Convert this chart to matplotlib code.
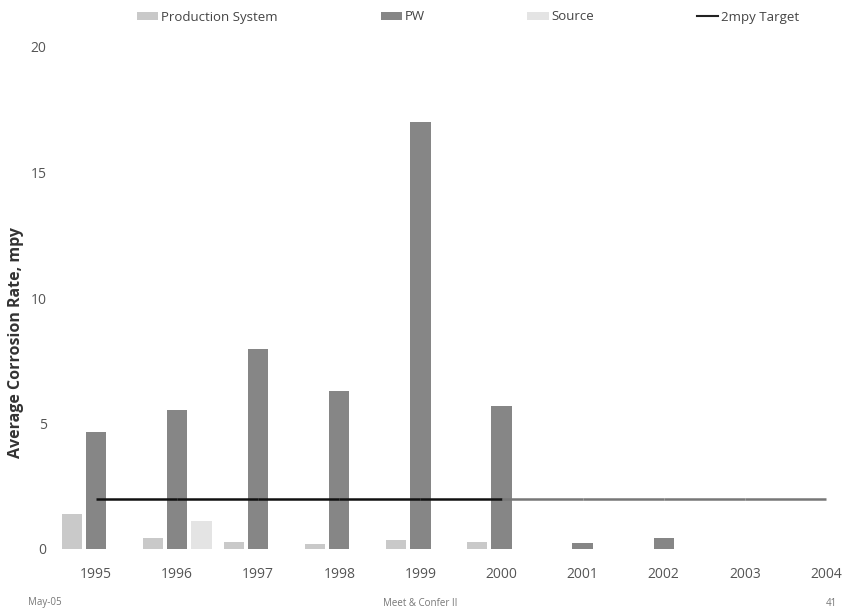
import matplotlib
matplotlib.use("Agg")
import matplotlib.pyplot as plt
import numpy as np
from matplotlib.patches import Patch
from matplotlib.lines import Line2D
from matplotlib.collections import LineCollection

plt.rcParams['font.family'] = ['Open Sans', 'DejaVu Sans']

years = ["1995", "1996", "1997", "1998", "1999", "2000", "2001", "2002", "2003", "2004"]
production_system = [1.4, 0.45, 0.28, 0.2, 0.35, 0.28, 0.0, 0.0, 0.0, 0.0]
pw = [4.65, 5.55, 7.95, 6.3, 17.0, 5.7, 0.25, 0.45, 0.0, 0.0]
source = [0.0, 1.1, 0.0, 0.0, 0.0, 0.0, 0.0, 0.0, 0.0, 0.0]
target = [2, 2, 2, 2, 2, 2, 2, 2, 2, 2]

W, H = 847, 609
fig = plt.figure(figsize=(W / 100, H / 100), dpi=100)
ax = fig.add_axes([55 / W, 1 - 549 / H, (W - 55) / W, (549 - 47) / H])

x = np.arange(len(years))
bw = 0.25
ax.bar(x - 0.3, production_system, bw, color="#c9c9c9", zorder=2)
ax.bar(x, pw, bw, color="#868686", zorder=2)
ax.bar(x + 0.3, source, bw, color="#e4e4e4", zorder=2)

# target line: dark over the reported years, fading afterwards
pts = np.column_stack([x, target])
segs = np.stack([pts[:-1], pts[1:]], axis=1)
seg_colors = ["#111111"] * 5 + ["#777777"] * 4
ax.add_collection(LineCollection(segs, colors=seg_colors, linewidths=1.8, zorder=3))

ax.set_xlim(-0.506, 9.26)
ax.set_ylim(0, 20)
ax.set_xticks(x)
ax.set_xticklabels(years, fontsize=10, color="#555555")
ax.set_yticks([0, 5, 10, 15, 20])
ax.set_yticklabels(["0", "5", "10", "15", "20"], fontsize=10, color="#555555")
ax.tick_params(axis="both", length=0)
ax.tick_params(axis="x", pad=13)
ax.tick_params(axis="y", pad=6)
for s in ax.spines.values():
    s.set_visible(False)

fig.text(16 / W, 1 - 342 / H, "Average Corrosion Rate, mpy", rotation=90,
         ha="center", va="center", fontsize=11.5, fontweight="bold", color="#333333")

handles = [
    Patch(facecolor="#c9c9c9"),
    Patch(facecolor="#868686"),
    Patch(facecolor="#e4e4e4"),
    Line2D([0], [0], color="#222222", lw=1.5),
]
labels = ["Production System", "PW", "Source", "2mpy Target"]
fig.legend(handles, labels, loc="center", bbox_to_anchor=(468 / W, 1 - 17 / H),
           ncol=4, frameon=False, fontsize=9.5, columnspacing=7.8,
           handlelength=1.6, handleheight=0.5, handletextpad=0.2,
           labelcolor="#444444")

fig.text(28 / W, 1 - 603 / H, "May-05", fontsize=7, color="#777777", va="center")
fig.text(420 / W, 1 - 603 / H, "Meet & Confer II", fontsize=7, color="#777777",
         va="center", ha="center")
fig.text(826 / W, 1 - 603 / H, "41", fontsize=7, color="#777777", va="center")

fig.savefig("out.png", dpi=100)
